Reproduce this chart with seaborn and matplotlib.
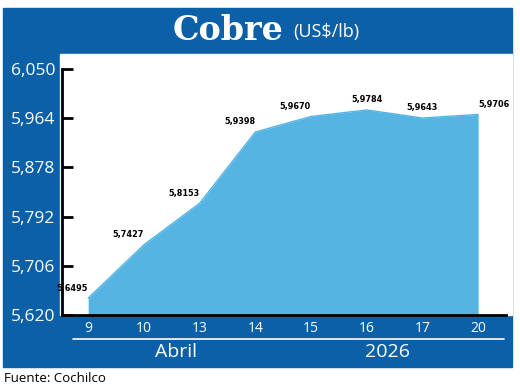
import numpy as np
import pandas as pd
import matplotlib
matplotlib.use("Agg")
import matplotlib.pyplot as plt
from matplotlib.patches import Rectangle
from matplotlib.lines import Line2D
import seaborn as sns

# datos
dias = ["9", "10", "13", "14", "15", "16", "17", "20"]
valores = [5.6495, 5.7427, 5.8153, 5.9398, 5.9670, 5.9784, 5.9643, 5.9706]
yticks = [5.620, 5.706, 5.792, 5.878, 5.964, 6.050]
meses = ["Abril", "2026"]

azul = "#0B60A8"
celeste = "#56B4E3"

sns.set_theme(style="white")
plt.rcParams["font.family"] = ["Open Sans", "DejaVu Sans"]

W, H = 520, 388
fig = plt.figure(figsize=(W / 100, H / 100), dpi=100)

def fx(px):
    return px / W

def fy(py):
    return 1 - py / H

# marco azul y zona blanca
fig.add_artist(Rectangle((fx(3), fy(367)), fx(509), 359 / H, color=azul, zorder=0))
fig.add_artist(Rectangle((fx(60), fy(315)), fx(452), 261 / H, color="white", zorder=0))

ax = fig.add_axes([fx(62), fy(315), fx(444), (315 - 69) / H])
ax.set_facecolor("none")

df = pd.DataFrame({"pos": np.arange(len(dias)), "valor": valores})
sns.lineplot(data=df, x="pos", y="valor", color=celeste, linewidth=1, ax=ax)
ax.fill_between(df["pos"], df["valor"], yticks[0], color=celeste, lw=0)

ax.set_xlim(-0.47, len(dias) - 0.5)
ax.set_ylim(yticks[0], yticks[-1])
ax.set_xticks(df["pos"])
ax.set_xticklabels(dias)
ax.set_yticks(yticks)
ax.set_yticklabels([f"{t:.3f}".replace(".", ",") for t in yticks])
ax.set_xlabel("")
ax.set_ylabel("")

ax.tick_params(axis="y", left=True, direction="in", length=8, width=2, color="black",
               labelcolor="white", labelsize=12.5, pad=5)
ax.tick_params(axis="x", length=0, labelcolor="white", labelsize=10, pad=4)
for s in ["top", "right"]:
    ax.spines[s].set_visible(False)
for s in ["left", "bottom"]:
    ax.spines[s].set_color("black")
    ax.spines[s].set_linewidth(2)

# etiquetas de valores
alin = ["right", "right", "right", "right", "right", "center", "center", "left"]
for i, v in enumerate(valores):
    ax.annotate(f"{v:.4f}".replace(".", ","), (i, v), xytext=(0, 4),
                textcoords="offset points", ha=alin[i], va="bottom",
                fontsize=6.5, fontweight="bold", fontstretch="condensed", color="black",
                family=["DejaVu Sans"])

# linea y meses bajo el eje
fig.add_artist(Line2D([fx(73), fx(504)], [fy(339), fy(339)], color="white", lw=1.2))
fig.text(fx(176), fy(352), meses[0], color="white", fontsize=14, ha="center", va="center")
fig.text(fx(387), fy(352), meses[1], color="white", fontsize=14, ha="center", va="center")

# titulo
fig.text(fx(283), fy(30), "Cobre", color="white", fontsize=24, fontweight="bold",
         family=["DejaVu Serif"], ha="right", va="center")
fig.text(fx(293), fy(32), "(US$/lb)", color="white", fontsize=13, ha="left", va="center")

fig.text(fx(4), fy(378), "Fuente: Cochilco", color="black", fontsize=9.5, ha="left", va="center")

fig.savefig("out.png", dpi=100)
